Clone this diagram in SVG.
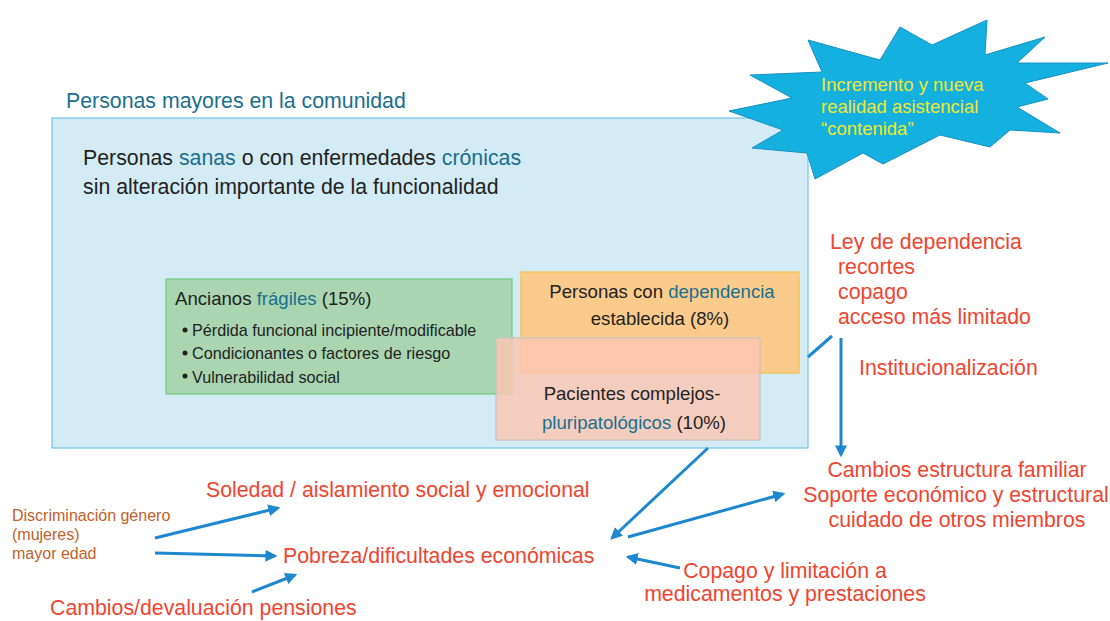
<svg xmlns="http://www.w3.org/2000/svg" width="1110" height="621" viewBox="0 0 1110 621">
<defs>
<marker id="ah" viewBox="0 0 10 10" refX="8" refY="5" markerWidth="4" markerHeight="4" orient="auto" markerUnits="strokeWidth">
<path d="M0,0 L10,5 L0,10 z" fill="#1e88cf"/>
</marker>
<style>
text{font-family:"Liberation Sans",Arial,sans-serif;}
.dk{fill:#222;}
.bl{fill:#1a6f8f;}
.rd{fill:#ef4530;font-size:21.3px;}
.br{fill:#c0622a;font-size:16px;}
.yl{fill:#f2e82a;font-size:18.5px;}
.con{stroke:#1e88cf;stroke-width:3;fill:none;}
.arr{marker-end:url(#ah);}
</style>
</defs>
<rect width="1110" height="621" fill="#fff"/>

<g id="comunidad">
<text x="66" y="108" class="bl" font-size="21.3">Personas mayores en la comunidad</text>
<rect x="52" y="118" width="756" height="330" fill="#d3ebf5" stroke="#72c5e8" stroke-width="1.2"/>
<text x="83" y="165" class="dk" font-size="21.3">Personas <tspan class="bl">sanas</tspan> o con enfermedades <tspan class="bl">crónicas</tspan></text>
<text x="83" y="194" class="dk" font-size="21.3">sin alteración importante de la funcionalidad</text>
</g>

<g id="fragiles">
<rect x="166" y="279" width="346" height="115" fill="#a9d6b1" stroke="#6ccb7c" stroke-width="1.2"/>
<text x="175" y="305" class="dk" font-size="18.6">Ancianos <tspan class="bl">frágiles</tspan> (15%)</text>
<circle cx="185" cy="330" r="2.5" fill="#222"/>
<circle cx="185" cy="353" r="2.5" fill="#222"/>
<circle cx="185" cy="376" r="2.5" fill="#222"/>
<text x="192" y="336" class="dk" font-size="16.2">Pérdida funcional incipiente/modificable</text>
<text x="192" y="359" class="dk" font-size="16.2">Condicionantes o factores de riesgo</text>
<text x="192" y="383" class="dk" font-size="16.2">Vulnerabilidad social</text>
</g>

<g id="dependencia">
<rect x="521" y="272" width="278" height="101" fill="#fbcb8c" stroke="#f5c243" stroke-width="1.2"/>
<text x="662" y="298" class="dk" font-size="18.6" text-anchor="middle">Personas con <tspan class="bl">dependencia</tspan></text>
<text x="660" y="325" class="dk" font-size="18.6" text-anchor="middle">establecida (8%)</text>
</g>

<g id="complejos">
<rect x="496" y="338" width="264" height="102" fill="#fdc6b2" fill-opacity="0.82" stroke="#c9c2be" stroke-width="1.2"/>
<text x="632" y="400" class="dk" font-size="18.6" text-anchor="middle">Pacientes complejos-</text>
<text x="634" y="429" class="dk" font-size="18.6" text-anchor="middle"><tspan class="bl">pluripatológicos</tspan> (10%)</text>
</g>

<g id="incremento">
<path d="M729,111 L792,98 L750,75 L822,72 L808,40 L880,60 L900,27 L932,45 L987,20 L985,55 L1045,37 L1017,63 L1108,63 L1025,83 L1048,99 L1017,107 L1060,133 L1010,130 L990,147 L940,135 L883,164 L863,153 L815,179 L807,153 L752,148 L783,130 Z" fill="#14b0e0" stroke="#1890c0" stroke-width="1"/>
<text x="821" y="91" class="yl">Incremento y nueva</text>
<text x="821" y="113" class="yl">realidad asistencial</text>
<text x="821" y="135" class="yl">“contenida”</text>
</g>

<g id="ley">
<text x="830" y="249" class="rd">Ley de dependencia</text>
<text x="838" y="274" class="rd">recortes</text>
<text x="838" y="299" class="rd">copago</text>
<text x="838" y="324" class="rd">acceso más limitado</text>
</g>

<g id="institucionalizacion">
<text x="859" y="375" class="rd">Institucionalización</text>
</g>

<g id="familiar">
<text x="957" y="477" class="rd" text-anchor="middle">Cambios estructura familiar</text>
<text x="956" y="502" class="rd" text-anchor="middle">Soporte económico y estructural</text>
<text x="957" y="527" class="rd" text-anchor="middle">cuidado de otros miembros</text>
</g>

<g id="soledad">
<text x="206" y="497" class="rd">Soledad / aislamiento social y emocional</text>
</g>

<g id="pobreza">
<text x="283" y="563" class="rd">Pobreza/dificultades económicas</text>
</g>

<g id="pensiones">
<text x="50" y="615" class="rd">Cambios/devaluación pensiones</text>
</g>

<g id="copago">
<text x="785" y="578" class="rd" text-anchor="middle">Copago y limitación a</text>
<text x="785" y="601" class="rd" text-anchor="middle">medicamentos y prestaciones</text>
</g>

<g id="discriminacion">
<text x="12" y="521" class="br">Discriminación género</text>
<text x="12" y="540" class="br">(mujeres)</text>
<text x="12" y="559" class="br">mayor edad</text>
</g>

<g id="connectors">
<line x1="155" y1="538" x2="278" y2="508" class="con arr"/>
<line x1="155" y1="553" x2="275" y2="556" class="con arr"/>
<line x1="252" y1="592" x2="295" y2="575" class="con arr"/>
<line x1="708" y1="448" x2="612" y2="538" class="con arr"/>
<line x1="628" y1="537" x2="783" y2="494" class="con arr"/>
<line x1="680" y1="568" x2="628" y2="557" class="con arr"/>
<line x1="841" y1="338" x2="841" y2="455" class="con arr"/>
<line x1="808" y1="357" x2="832" y2="336" class="con"/>
</g>
</svg>
